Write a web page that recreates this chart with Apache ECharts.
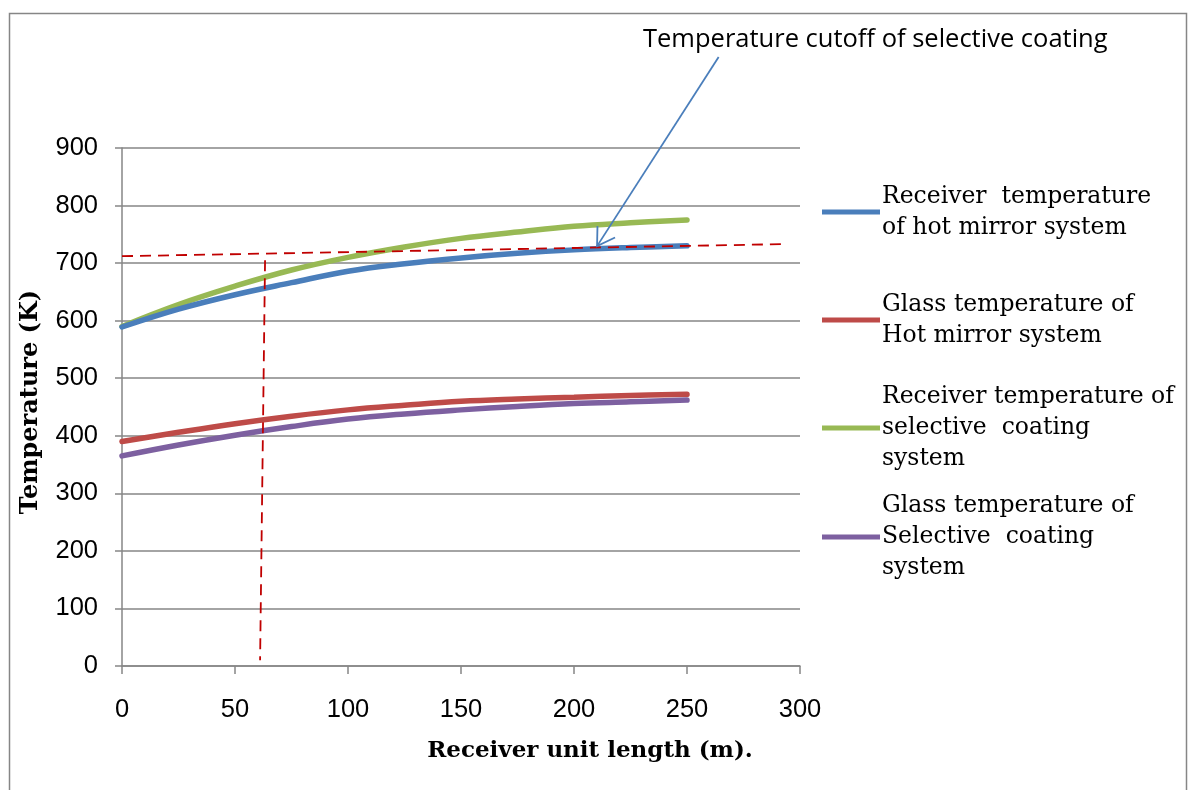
<!DOCTYPE html>
<html>
<head>
<meta charset="utf-8">
<script src="https://cdn.jsdelivr.net/npm/echarts@6/dist/echarts.min.js"></script>
<style>
html,body{margin:0;padding:0;background:#fff;}
#chart{width:1192px;height:790px;}
</style>
</head>
<body>
<div id="chart"></div>
<script>
// ---- data ----
const xs = [0, 25, 50, 75, 100, 125, 150, 175, 200, 225, 250];
const receiverHotMirror = [589, 620, 645, 666, 686, 699, 709, 717, 723, 727, 730];
const glassHotMirror = [390, 406, 421, 434, 445, 453, 460, 464, 467, 470, 472];
const receiverSelective = [590, 628, 660, 688, 710, 728, 743, 754, 764, 770, 775];
const glassSelective = [365, 384, 401, 416, 429, 438, 445, 451, 456, 459, 462];
const seriesNames = [
  'Receiver  temperature\nof hot mirror system',
  'Glass temperature of\nHot mirror system',
  'Receiver temperature of\nselective  coating\nsystem',
  'Glass temperature of\nSelective  coating\nsystem'
];
const cutoffLine = [[0, 712], [293, 733]];
const dropLine = [[63.3, 705], [61.1, 10]];
const arrowLine = [[264, 1058], [210.2, 729.5]];
const annotationText = 'Temperature cutoff of selective coating';
const xTicks = [0, 50, 100, 150, 200, 250, 300];
const yTicks = [0, 100, 200, 300, 400, 500, 600, 700, 800, 900];

const colors = ['#4a7ebb', '#be4b48', '#98b954', '#7d60a0'];
const pair = (arr) => xs.map((x, i) => [x, arr[i]]);
const values = [receiverHotMirror, glassHotMirror, receiverSelective, glassSelective];

const chart = echarts.init(document.getElementById('chart'), null, {renderer: 'canvas'});

const lineHeight = 31;
const legendTops = [165.5, 273.5, 350.5, 459.5];
const legends = seriesNames.map((n, i) => {
  const lines = n.split('\n').length;
  return {
    data: [n],
    left: 822,
    top: legendTops[i],
    padding: 0,
    itemWidth: 58,
    itemHeight: 5,
    icon: 'rect',
    selectedMode: false,
    textStyle: {
      fontFamily: 'DejaVu Serif',
      fontSize: 23.5,
      color: '#000',
      lineHeight: lineHeight,
      padding: [(lines - 1) * lineHeight, 0, 0, -3]
    }
  };
});

const lineSeries = seriesNames.map((n, i) => ({
  name: n,
  type: 'line',
  data: pair(values[i]),
  smooth: 0.4,
  showSymbol: false,
  symbol: 'none',
  lineStyle: {color: colors[i], width: 5.5, cap: 'round'},
  itemStyle: {color: colors[i]},
  z: 3 + (i === 0 ? 1 : 0)
}));

const option = {
  animation: false,
  backgroundColor: '#fff',
  title: {
    text: annotationText,
    left: 638,
    top: 22,
    textStyle: {fontFamily: 'Open Sans', fontSize: 25.5, fontWeight: 'normal', color: '#000'}
  },
  legend: legends,
  grid: {left: 122, right: 392, top: 148, bottom: 124, containLabel: false},
  xAxis: {
    type: 'value', min: 0, max: 300, interval: 50,
    name: 'Receiver unit length (m).',
    nameLocation: 'middle', nameGap: 74,
    nameTextStyle: {fontFamily: 'DejaVu Serif', fontWeight: 'bold', fontSize: 23, color: '#000',
      padding: [0, 0, 0, 258]},
    axisLine: {show: true, lineStyle: {color: '#868686', width: 1.5}},
    axisTick: {show: true, inside: false, length: 8, lineStyle: {color: '#868686', width: 1.5}},
    axisLabel: {margin: 31, fontFamily: 'Liberation Sans', fontSize: 25.5, color: '#000',
      formatter: (v) => xTicks.includes(v) ? String(v) : ''},
    splitLine: {show: false}
  },
  yAxis: {
    type: 'value', min: 0, max: 900, interval: 100,
    name: 'Temperature (K)',
    nameLocation: 'middle', nameGap: 79,
    nameTextStyle: {fontFamily: 'DejaVu Serif', fontWeight: 'bold', fontSize: 24, color: '#000',
      padding: [0, 0, 0, 10]},
    axisLine: {show: true, lineStyle: {color: '#868686', width: 1.5}},
    axisTick: {show: true, inside: false, length: 7, lineStyle: {color: '#868686', width: 1.5}},
    axisLabel: {margin: 24, fontFamily: 'Liberation Sans', fontSize: 25.5, color: '#000',
      formatter: (v) => yTicks.includes(v) ? String(v) : ''},
    splitLine: {show: true, lineStyle: {color: '#868686', width: 1.5}}
  },
  series: lineSeries.concat([
    {
      name: 'cutoff', type: 'line', data: cutoffLine, symbol: 'none', clip: false,
      lineStyle: {color: '#c00000', width: 1.8, type: [11, 7]}, z: 5, silent: true
    },
    {
      name: 'drop', type: 'line', data: dropLine, symbol: 'none', clip: false,
      lineStyle: {color: '#c00000', width: 1.8, type: [11, 7]}, z: 5, silent: true
    },
    {
      name: 'arrow', type: 'line', data: arrowLine, symbol: 'none', clip: false,
      lineStyle: {color: '#4a7ebb', width: 1.8}, z: 6, silent: true
    }
  ])
};
chart.setOption(option);

// open arrow head at the tip of the annotation arrow, computed from data coords
const p0 = chart.convertToPixel({gridIndex: 0}, arrowLine[0]);
const p1 = chart.convertToPixel({gridIndex: 0}, arrowLine[1]);
const ang = Math.atan2(p0[1] - p1[1], p0[0] - p1[0]);
const headLen = 20, spread = 0.55;
const w1 = [p1[0] + headLen * Math.cos(ang - spread), p1[1] + headLen * Math.sin(ang - spread)];
const w2 = [p1[0] + headLen * Math.cos(ang + spread), p1[1] + headLen * Math.sin(ang + spread)];
chart.setOption({
  graphic: [
    {
      type: 'rect', left: 7, top: 11, silent: true, z: -1,
      shape: {width: 1177, height: 800},
      style: {fill: 'none', stroke: '#868686', lineWidth: 1.5}
    },
    {
      type: 'polyline', silent: true, z: 10,
      shape: {points: [w1, p1, w2]},
      style: {stroke: '#4a7ebb', lineWidth: 1.8, fill: 'none'}
    }
  ]
});
</script>
</body>
</html>
